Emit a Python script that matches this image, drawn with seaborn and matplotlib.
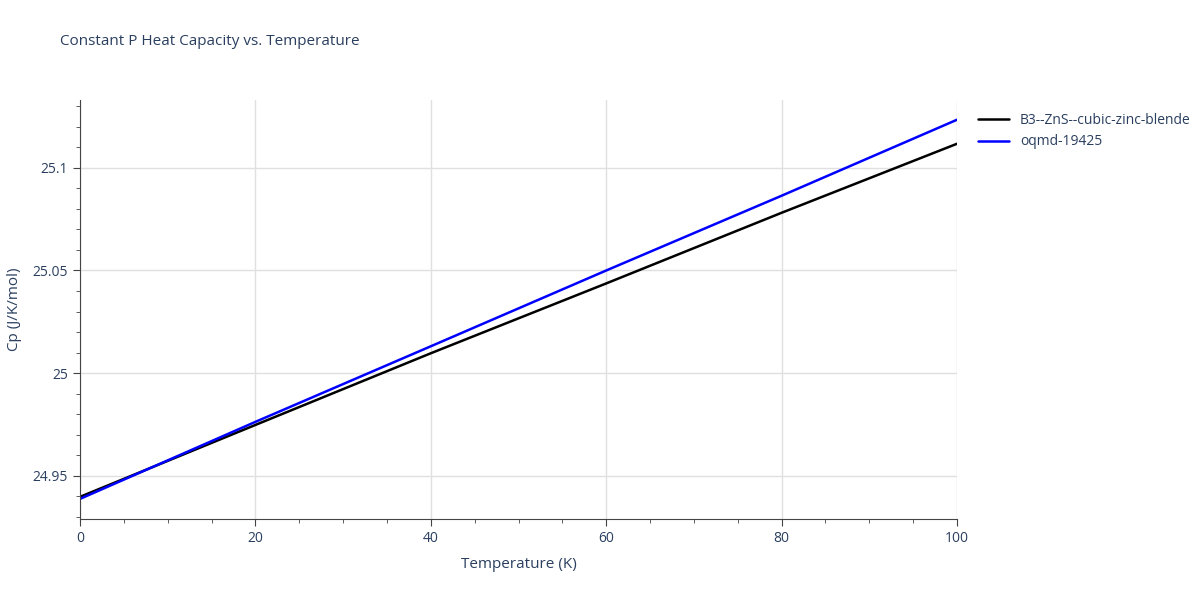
import numpy as np
import pandas as pd
import seaborn as sns
import matplotlib.pyplot as plt
from matplotlib.ticker import MultipleLocator

temps = [0, 20, 40, 60, 80, 100]
cp_b3 = [24.9398, 24.9748, 25.0097, 25.0437, 25.0781, 25.1117]
cp_oqmd = [24.9388, 24.9763, 25.0131, 25.0500, 25.0864, 25.1234]

df = pd.DataFrame({
    "T": temps * 2,
    "Cp": cp_b3 + cp_oqmd,
    "name": ["B3--ZnS--cubic-zinc-blende"] * len(temps) + ["oqmd-19425"] * len(temps),
})

sns.set_style("white")
plt.rcParams['font.family'] = ['Open Sans', 'DejaVu Sans']
txt = "#2a3f5f"

fig = plt.figure(figsize=(12, 6), dpi=100)
ax = fig.add_axes([0.0667, 0.135, 0.7308, 0.6983])
sns.lineplot(data=df, x="T", y="Cp", hue="name",
             palette=["black", "blue"], linewidth=1.8, ax=ax)

ax.set_xlim(0, 100)
ax.set_ylim(24.929, 25.133)
ax.xaxis.set_major_locator(MultipleLocator(20))
ax.xaxis.set_minor_locator(MultipleLocator(5))
ax.yaxis.set_major_locator(MultipleLocator(0.05))
ax.yaxis.set_minor_locator(MultipleLocator(0.01))
ax.set_yticks([24.95, 25.0, 25.05, 25.1])
ax.set_yticklabels(["24.95", "25", "25.05", "25.1"])
ax.grid(True, which="major", color="#e0e0e0", linewidth=1)
ax.set_axisbelow(True)
for s in ["top", "right"]:
    ax.spines[s].set_visible(False)
for s in ["left", "bottom"]:
    ax.spines[s].set_color("#444444")
ax.tick_params(which="both", direction="out", color="#444444", labelcolor=txt, labelsize=10)
ax.tick_params(which="major", length=5, left=True, bottom=True)
ax.tick_params(which="minor", length=3, left=True, bottom=True)
ax.set_xlabel("Temperature (K)", color=txt, fontsize=11, labelpad=8)
ax.set_ylabel("Cp (J/K/mol)", color=txt, fontsize=11, labelpad=8)

ax.legend(loc="upper left", bbox_to_anchor=(1.01, 1.0), frameon=False,
          fontsize=10, labelcolor=txt, handlelength=2.2)
fig.text(0.05, 0.925, "Constant P Heat Capacity vs. Temperature", color=txt, fontsize=11)

fig.savefig("out.png")
